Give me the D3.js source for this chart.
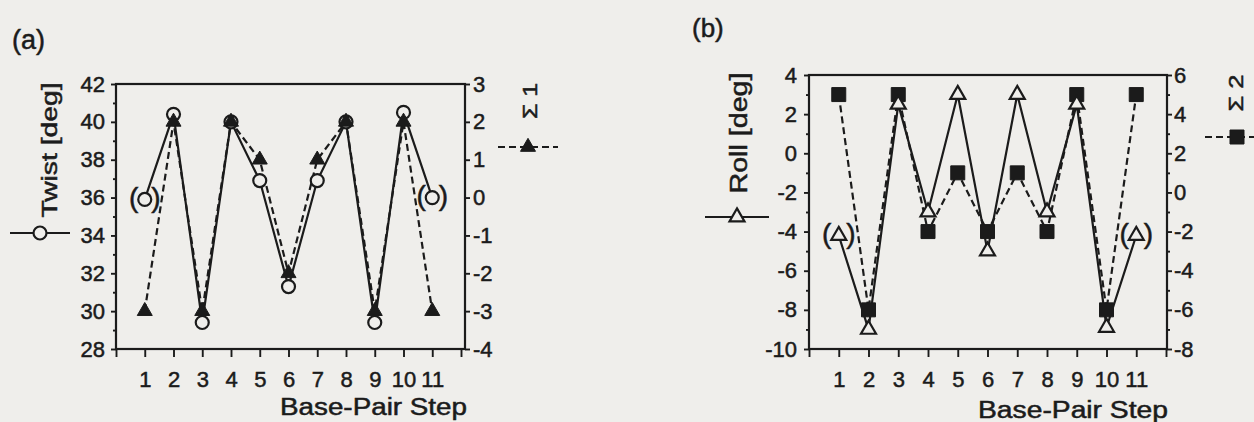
<!DOCTYPE html>
<html>
<head>
<meta charset="utf-8">
<script src="https://cdn.jsdelivr.net/npm/d3@7"></script>
<style>
  html, body { margin: 0; padding: 0; background: #efeeeb; }
  svg { display: block; }
  text { font-family: "Liberation Sans", Arial, sans-serif; fill: #1b1b1b; stroke: #1b1b1b; stroke-width: 0.5px; }
</style>
</head>
<body>
<svg id="chart" width="1254" height="422"></svg>
<script>
// Base-pair steps along the duplex
const steps = [1, 2, 3, 4, 5, 6, 7, 8, 9, 10, 11];
const stepTicks = [0, 1, 2, 3, 4, 5, 6, 7, 8, 9, 10, 11, 12];

// Panel (a): twist angle and the Σ1 periodicity term
const twist  = [35.9, 40.4, 29.4, 40, 36.9, 31.3, 36.9, 40, 29.4, 40.5, 36.0];
const sigma1 = [-3, 2, -3, 2, 1, -2, 1, 2, -3, 2, -3];

// Panel (b): roll angle and the Σ2 periodicity term
const roll   = [-4.2, -9, 2.5, -3, 3, -5, 3, -3, 2.5, -8.9, -4.2];
const sigma2 = [5, -6, 5, -2, 1, -2, 1, -2, 5, -6, 5];

// End steps whose values are shown in parentheses
const bracketedSteps = [1, 11];

// Axis ticks
const twistTicks  = [28, 30, 32, 34, 36, 38, 40, 42];
const twistMinor  = [29, 31, 33, 35, 37, 39, 41];
const sigma1Ticks = [-4, -3, -2, -1, 0, 1, 2, 3];
const rollTicks   = [-10, -8, -6, -4, -2, 0, 2, 4];
const rollMinor   = [-9, -7, -5, -3, -1, 1, 3];
const sigma2Ticks = [-8, -6, -4, -2, 0, 2, 4, 6];
const sigma2Minor = [-7, -5, -3, -1, 1, 3, 5];

const ink = "#1b1b1b";
const paper = "#efeeeb";
const lineW = 2.2;
const svg = d3.select("#chart");

const sym = (type, size) => d3.symbol().type(type).size(size)();
const triSide = 15;
const triArea = triSide * triSide * Math.sqrt(3) / 4;
const shapes = {
  circle:   { path: sym(d3.symbolCircle, Math.PI * 6.5 * 6.5), filled: false },
  triOpen:  { path: sym(d3.symbolTriangle, triArea), filled: false },
  triFull:  { path: sym(d3.symbolTriangle, triArea), filled: true },
  square:   { path: sym(d3.symbolSquare, 14 * 14), filled: true }
};

function styleAxis(g, size) {
  g.select(".domain").remove();
  g.selectAll("line").attr("stroke", ink).attr("stroke-width", 1.9);
  g.selectAll("text").attr("font-size", size).attr("font-family", null).attr("fill", ink);
  g.attr("font-family", null).attr("font-size", null);
}

function panel(o) {
  const g = svg.append("g");
  const x = d3.scaleLinear().domain([0, 12]).range([o.left, o.xEnd]);
  const yL = d3.scaleLinear().domain(o.leftDomain).range([o.bottom, o.top]);
  const yR = d3.scaleLinear().domain(o.rightDomain).range([o.bottom, o.top]);

  // x axis
  g.append("g").attr("transform", `translate(0,${o.bottom})`)
    .call(d3.axisBottom(x).tickValues(stepTicks).tickSize(8).tickPadding(14)
      .tickFormat(d => steps.includes(d) ? String(d) : ""))
    .call(a => styleAxis(a, 22));

  // left axis, major and minor ticks
  g.append("g").attr("transform", `translate(${o.left},0)`)
    .call(d3.axisLeft(yL).tickValues(o.leftTicks).tickSize(5).tickPadding(o.leftPad)
      .tickFormat(d => String(d)))
    .call(a => styleAxis(a, 22));
  g.append("g").attr("transform", `translate(${o.left},0)`)
    .call(d3.axisLeft(yL).tickValues(o.leftMinor).tickSize(3).tickFormat(""))
    .call(a => styleAxis(a, 22));

  // right axis
  g.append("g").attr("transform", `translate(${o.right},0)`)
    .call(d3.axisRight(yR).tickValues(o.rightTicks).tickSize(5).tickPadding(o.rightPad)
      .tickFormat(d => String(d)))
    .call(a => styleAxis(a, 22));
  if (o.rightMinor) {
    g.append("g").attr("transform", `translate(${o.right},0)`)
      .call(d3.axisRight(yR).tickValues(o.rightMinor).tickSize(3).tickFormat(""))
      .call(a => styleAxis(a, 22));
  }

  // frame
  g.append("rect")
    .attr("x", o.left).attr("y", o.top)
    .attr("width", o.right - o.left).attr("height", o.bottom - o.top)
    .attr("fill", "none").attr("stroke", ink).attr("stroke-width", 2.2);

  const lineOf = scale => d3.line().x((d, i) => x(steps[i])).y(d => scale(d));

  // dashed series line
  g.append("path").datum(o.dashed.values)
    .attr("d", lineOf(o.dashed.right ? yR : yL))
    .attr("fill", "none").attr("stroke", ink).attr("stroke-width", lineW)
    .attr("stroke-dasharray", "7,4");
  // solid series line
  g.append("path").datum(o.solid.values)
    .attr("d", lineOf(o.solid.right ? yR : yL))
    .attr("fill", "none").attr("stroke", ink).attr("stroke-width", lineW);

  const drawMarks = s => {
    const sc = s.right ? yR : yL;
    const shp = shapes[s.shape];
    g.append("g").selectAll("path").data(s.values).join("path")
      .attr("transform", (d, i) => `translate(${x(steps[i])},${sc(d)})`)
      .attr("d", shp.path)
      .attr("fill", shp.filled ? ink : paper)
      .attr("stroke", ink).attr("stroke-width", shp.filled ? 1 : 2.2);
    if (s.bracketed) {
      const bg = g.append("g");
      bracketedSteps.forEach(st => {
        const i = steps.indexOf(st);
        const cx = x(st), cy = sc(s.values[i]);
        bg.append("text").attr("x", cx - o.parenGap).attr("y", cy + 7.5)
          .attr("text-anchor", "end").attr("font-size", 28).text("(");
        bg.append("text").attr("x", cx + o.parenGap).attr("y", cy + 7.5)
          .attr("text-anchor", "start").attr("font-size", 28).text(")");
      });
    }
  };
  o.order.forEach(k => drawMarks(o[k]));

  // x axis title
  g.append("text").attr("x", o.titleX).attr("y", o.titleY)
    .attr("font-size", 23).attr("textLength", o.titleLen)
    .attr("lengthAdjust", "spacingAndGlyphs").text("Base-Pair Step");
}

// Panel (a)
panel({
  left: 116, right: 465, xEnd: 461, top: 84, bottom: 349,
  leftDomain: [28, 42], rightDomain: [-4, 3],
  leftTicks: twistTicks, leftMinor: twistMinor, leftPad: 6,
  rightTicks: sigma1Ticks, rightMinor: null, rightPad: 3,
  solid:  { values: twist,  right: false, shape: "circle",  bracketed: true },
  dashed: { values: sigma1, right: true,  shape: "triFull", bracketed: false },
  order: ["solid", "dashed"], parenGap: 6.5,
  titleX: 280, titleY: 415, titleLen: 187
});

// Panel (b)
panel({
  left: 809, right: 1167, xEnd: 1166, top: 75, bottom: 349,
  leftDomain: [-10, 4], rightDomain: [-8, 6],
  leftTicks: rollTicks, leftMinor: rollMinor, leftPad: 7,
  rightTicks: sigma2Ticks, rightMinor: sigma2Minor, rightPad: 2,
  solid:  { values: roll,   right: false, shape: "triOpen", bracketed: true },
  dashed: { values: sigma2, right: true,  shape: "square",  bracketed: false },
  order: ["dashed", "solid"], parenGap: 7.5,
  titleX: 978, titleY: 418, titleLen: 190
});

// Panel letters
svg.append("text").attr("x", 12).attr("y", 49).attr("font-size", 27).text("(a)");
svg.append("text").attr("x", 692).attr("y", 37).attr("font-size", 26).text("(b)");

// Axis titles with their series keys
function verticalTitle(txt, cy, baseX, len, size) {
  svg.append("text")
    .attr("transform", `translate(${baseX},${cy}) rotate(-90)`)
    .attr("text-anchor", "middle").attr("font-size", size)
    .attr("textLength", len).attr("lengthAdjust", "spacingAndGlyphs")
    .text(txt);
}
function key(x1, x2, y, shape, dashed) {
  svg.append("line").attr("x1", x1).attr("x2", x2).attr("y1", y).attr("y2", y)
    .attr("stroke", ink).attr("stroke-width", lineW)
    .attr("stroke-dasharray", dashed ? "7,4" : null);
  const shp = shapes[shape];
  svg.append("path").attr("transform", `translate(${(x1 + x2) / 2},${y})`)
    .attr("d", shp.path).attr("fill", shp.filled ? ink : paper)
    .attr("stroke", ink).attr("stroke-width", shp.filled ? 1 : 2.2);
}

verticalTitle("Twist [deg]", 150, 57, 135, 22);
key(10, 70, 233, "circle", false);

verticalTitle("Σ 1", 101, 537, 36, 21);
key(498, 558, 147, "triFull", true);

verticalTitle("Roll [deg]", 133, 747, 121, 23);
key(705, 769, 217, "triOpen", false);

verticalTitle("Σ 2", 93, 1243, 37, 21);
key(1205, 1269, 137, "square", true);
</script>
</body>
</html>
